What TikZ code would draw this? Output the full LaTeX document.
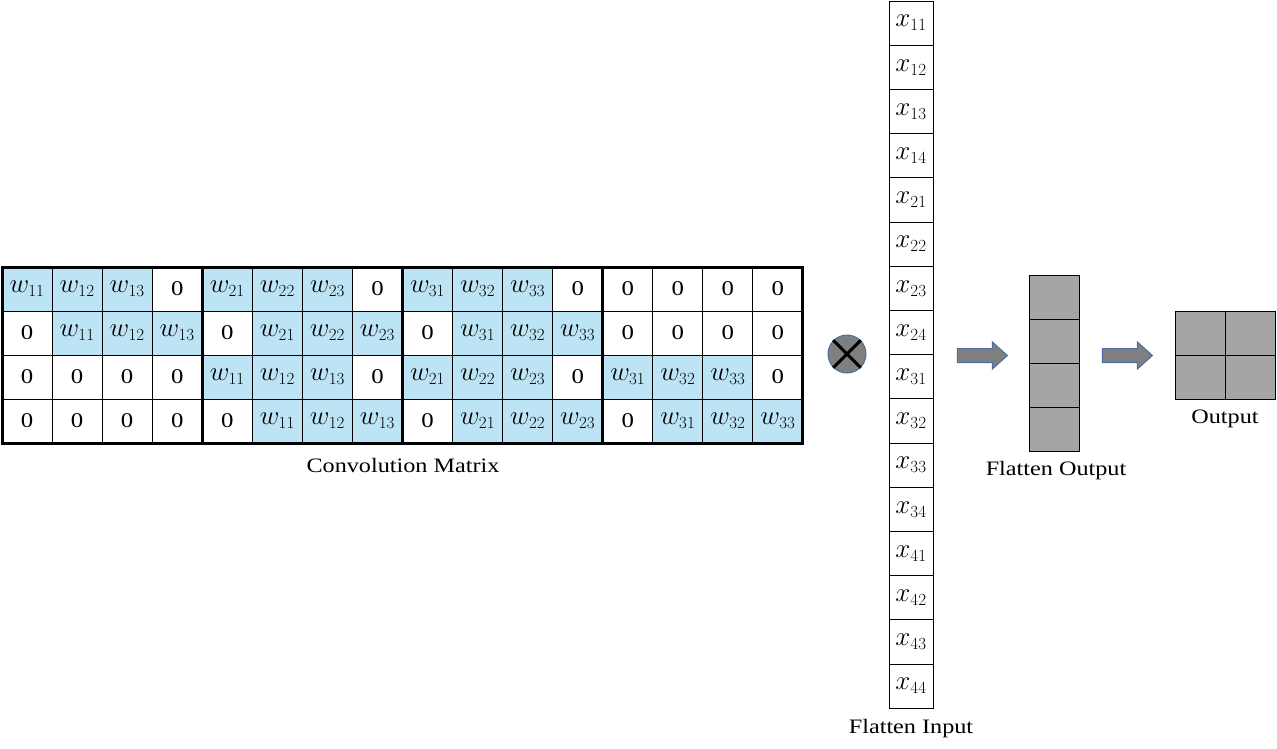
\RequirePackage{fix-cm}
\documentclass[tikz,border=0pt]{standalone}
\usepackage{fontspec}
\setmainfont{Liberation Serif}[FakeStretch=1.18]
\usetikzlibrary{shapes.arrows}
\DeclareMathSizes{27}{27}{17}{13}
\definecolor{wblue}{RGB}{189,228,245}
\definecolor{agray}{RGB}{127,127,127}
\definecolor{cgray}{RGB}{165,165,165}
\definecolor{aborder}{RGB}{72,110,165}
\tikzset{
  mbase/.style={minimum width=50.06pt, minimum height=44pt, inner sep=0pt, outer sep=0pt},
  zcell/.style={mbase, font=\fontsize{21}{24}\selectfont},
  wcell/.style={mbase, fill=wblue, font=\fontsize{27}{30}\selectfont},
  thinline/.style={line width=1pt},
  blockline/.style={line width=3pt},
  xcell/.style={draw, line width=1pt, minimum width=44pt, minimum height=44.2pt, inner sep=0pt, outer sep=0pt, font=\fontsize{27}{30}\selectfont},
  gcell/.style={draw, fill=cgray, line width=1pt, minimum width=50pt, minimum height=44pt, inner sep=0pt, outer sep=0pt},
  captext/.style={font=\fontsize{20.5}{24}\selectfont, inner sep=0pt},
  blockarrow/.style={single arrow, fill=agray, draw=aborder, line width=1pt, minimum height=50pt, minimum width=27pt, single arrow head extend=6.5pt, single arrow tip angle=84, inner sep=0pt}
}
\newcommand\mcell[3]{%
  \ifnum#3=0
    \node[zcell] (m#1-#2) at ({2+(#2-0.5)*50.06},{267+(#1-0.5)*44}) {0};
  \else
    \node[wcell] (m#1-#2) at ({2+(#2-0.5)*50.06},{267+(#1-0.5)*44}) {$w_{#3}$};
  \fi}
\begin{document}
\begin{tikzpicture}[x=1pt, y=-1pt]
\useasboundingbox (0,0) rectangle (1277,748);
% convolution matrix cells
\foreach \t [count=\c] in {11,12,13,0,21,22,23,0,31,32,33,0,0,0,0,0} {\mcell{1}{\c}{\t}}
\foreach \t [count=\c] in {0,11,12,13,0,21,22,23,0,31,32,33,0,0,0,0} {\mcell{2}{\c}{\t}}
\foreach \t [count=\c] in {0,0,0,0,11,12,13,0,21,22,23,0,31,32,33,0} {\mcell{3}{\c}{\t}}
\foreach \t [count=\c] in {0,0,0,0,0,11,12,13,0,21,22,23,0,31,32,33} {\mcell{4}{\c}{\t}}
% grid lines
\foreach \c in {1,...,15}
  \draw[thinline] (m1-\c.north east) -- (m4-\c.south east);
\foreach \r in {1,2,3}
  \draw[thinline] (m\r-1.south west) -- (m\r-16.south east);
\draw[blockline] (m1-1.north west) rectangle (m4-4.south east);
\draw[blockline] (m1-5.north west) rectangle (m4-8.south east);
\draw[blockline] (m1-9.north west) rectangle (m4-12.south east);
\draw[blockline] (m1-13.north west) rectangle (m4-16.south east);
\node[captext] (cmcap) at (403,465) {Convolution Matrix};
% multiplication sign
\node[circle, minimum size=38pt, inner sep=0pt, fill=agray, draw=aborder, line width=1pt] (ot) at (847,354) {};
\draw[line width=3pt] (ot.north west) -- (ot.south east);
\draw[line width=3pt] (ot.north east) -- (ot.south west);
% flatten input
\foreach \t [count=\i] in {11,12,13,14,21,22,23,24,31,32,33,34,41,42,43,44}
  \node[xcell] (x\i) at (911,{1+(\i-0.5)*44.2}) {$x_{\t}$};
\node[captext] (ficap) at (911,729) {Flatten Input};
% arrows
\node[blockarrow] (a1) at (978.5,355.5) {\rule{0pt}{13pt}};
\node[blockarrow] (a2) at (1123.5,355.5) {\rule{0pt}{13pt}};
% flatten output
\foreach \i in {1,...,4}
  \node[gcell] (fo\i) at (1054,{275+(\i-0.5)*44}) {};
\node[captext] (focap) at (1056,471) {Flatten Output};
% output
\node[gcell] (o11) at (1200.25,333) {};
\node[gcell] (o12) at (1250.25,333) {};
\node[gcell] (o21) at (1200.25,377) {};
\node[gcell] (o22) at (1250.25,377) {};
\node[captext] (ocap) at (1225,419) {Output};
\end{tikzpicture}
\end{document}
